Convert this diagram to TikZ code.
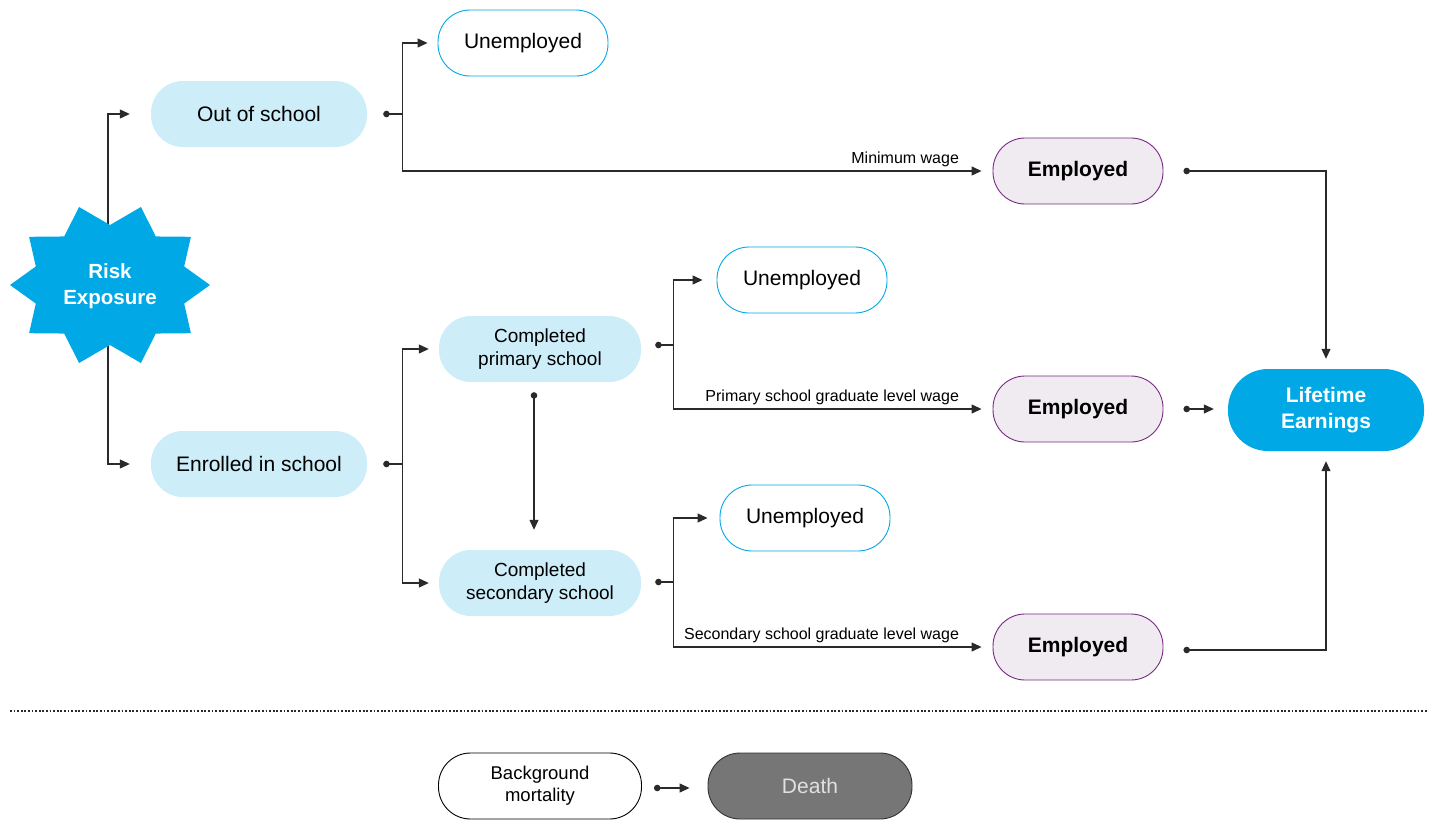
\documentclass[tikz,border=0pt]{standalone}
\usepackage{fontspec}
\setmainfont{Liberation Sans}
\usetikzlibrary{arrows.meta,calc}
\definecolor{lblue}{HTML}{CDEDF9}
\definecolor{kblue}{HTML}{00A9E6}
\definecolor{purp}{HTML}{7A2A84}
\definecolor{lav}{HTML}{EFEBF1}
\definecolor{dgray}{HTML}{767676}
\definecolor{ln}{HTML}{2A2A2A}
\begin{document}
\begin{tikzpicture}[x=1pt,y=-1pt,
  pill/.style={rounded corners=32pt, minimum height=66pt, align=center, inner sep=0pt, font=\fontsize{21}{25}\selectfont},
  lbnode/.style={pill, fill=lblue, minimum width=216pt},
  twoline/.style={font=\fontsize{19}{23}\selectfont, minimum width=202pt},
  unemp/.style={pill, draw=kblue, line width=0.9pt, fill=white, minimum width=170pt},
  emp/.style={pill, draw=purp, line width=0.9pt, fill=lav, minimum width=170pt, font=\bfseries\fontsize{21}{25}\selectfont},
  lenode/.style={pill, rounded corners=40pt, fill=kblue, text=white, minimum width=196pt, minimum height=82pt, font=\bfseries\fontsize{21}{26}\selectfont},
  conn/.style={draw=ln, line width=1.2pt},
  arr/.style={conn, -{Triangle[length=10pt 0 0,width=9pt 0 0]}},
  darr/.style={conn, {Circle[length=6.5pt 0 0]}-{Triangle[length=10pt 0 0,width=9pt 0 0]}},
  dotl/.style={conn, {Circle[length=6.5pt 0 0]}-},
  lbl/.style={font=\fontsize{16}{19}\selectfont, inner sep=4pt}
]
\useasboundingbox (0,0) rectangle (1431,819);

% nodes
\node[lbnode] (oos) at (259,114) {Out of school};
\node[unemp] (u1) at (523,43) {Unemployed};
\node[emp] (e1) at (1078,171) {Employed};
\node[unemp] (u2) at (802,280) {Unemployed};
\node[lbnode, twoline] (cp) at (540,349) {Completed\\primary school};
\node[emp] (e2) at (1078,409) {Employed};
\node[lenode] (le) at (1326,410) {Lifetime\\Earnings};
\node[lbnode] (enr) at (259,464) {Enrolled in school};
\node[unemp] (u3) at (805,518) {Unemployed};
\node[lbnode, twoline] (cs) at (540,583) {Completed\\secondary school};
\node[emp] (e3) at (1078,647) {Employed};
\node[pill, draw=black, line width=0.9pt, fill=white, minimum width=203pt, font=\fontsize{18.5}{22}\selectfont] (bm) at (540,786) {Background\\mortality};
\node[pill, draw=black!80, line width=0.9pt, fill=dgray, text=white!88!black, minimum width=204pt] (death) at (810,786) {Death};

% star branches
\coordinate (rc) at (108,285);
\draw[arr] (rc) |- ([xshift=-21pt]oos.west);
\draw[arr] (rc) |- ([xshift=-21pt]enr.west);

% risk star
\fill[kblue, shift={(110,285)}] (0:100pt and 82pt)
  \foreach \k in {0,...,9}{ -- (\k*36+18:78pt and 60pt) -- (\k*36+36:100pt and 82pt)} -- cycle;
\node[align=center, text=white, font=\bfseries\fontsize{20.5}{26}\selectfont] (risk) at (110,286) {Risk\\Exposure};

% out of school
\draw[dotl] ([xshift=16pt]oos.east) -- ++(19pt,0) coordinate (j1);
\draw[arr] (j1) |- ([xshift=-10pt]u1.west);
\draw[arr] (j1) |- node[lbl, pos=1, anchor=south east, xshift=-18pt] {Minimum wage} ([xshift=-11pt]e1.west);

% enrolled
\draw[dotl] ([xshift=16pt]enr.east) -- ++(19pt,0) coordinate (j2);
\draw[arr] (j2) |- ([xshift=-10pt]cp.west);
\draw[arr] (j2) |- ([xshift=-10pt]cs.west);

% primary
\draw[dotl] ([xshift=14pt,yshift=4pt]cp.east) -- ++(18pt,0) coordinate (j3);
\draw[arr] (j3) |- ([xshift=-14pt]u2.west);
\draw[arr] (j3) |- node[lbl, pos=1, anchor=south east, xshift=-18pt] {Primary school graduate level wage} ([xshift=-11pt]e2.west);
\draw[darr] ([xshift=-6pt,yshift=-10pt]cp.south) -- ([xshift=-6pt,yshift=20pt]cs.north);

% secondary
\draw[dotl] ([xshift=14pt,yshift=1pt]cs.east) -- ++(18pt,0) coordinate (j4);
\draw[arr] (j4) |- ([xshift=-12pt]u3.west);
\draw[arr] (j4) |- node[lbl, pos=1, anchor=south east, xshift=-18pt] {Secondary school graduate level wage} ([xshift=-11pt]e3.west);

% employed to lifetime earnings
\draw[darr] ([xshift=20pt]e1.east) -| ([yshift=10pt]le.north);
\draw[darr] ([xshift=20pt]e2.east) -- ($(le.west |- e2.east)+(-14pt,0)$);
\draw[darr] ([xshift=20pt,yshift=-3pt]e3.east) -| ([yshift=-10pt]le.south);

% separator
\coordinate (dl) at (10,711);
\coordinate (dr) at (1427,711);
\draw[ln, line width=1.8pt, dash pattern=on 1.8pt off 1.8pt] (dl) -- (dr);

% mortality
\draw[darr] ([xshift=12pt,yshift=-2pt]bm.east) -- ([xshift=-18pt,yshift=-2pt]death.west);
\end{tikzpicture}
\end{document}
